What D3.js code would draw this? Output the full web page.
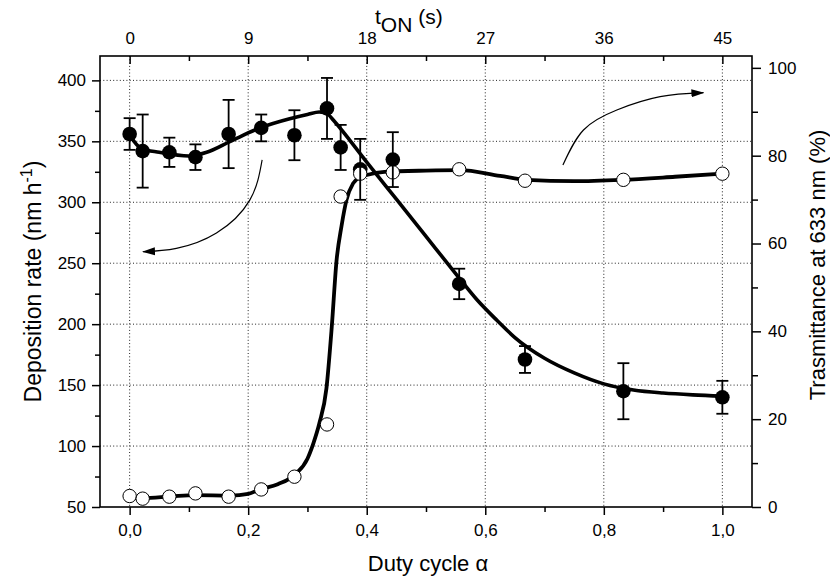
<!DOCTYPE html>
<html>
<head>
<meta charset="utf-8">
<script src="https://cdn.jsdelivr.net/npm/d3@7"></script>
<style>
body { margin: 0; background: #fff; }
text { font-family: "Liberation Sans", Arial, sans-serif; fill: #000; }
</style>
</head>
<body>
<div class="mainContainer"></div>
<script>
// duty cycle of the samples (t_ON = 45 s * alpha)
const alpha = [0, 0.022, 0.067, 0.111, 0.167, 0.222, 0.278, 0.333, 0.356, 0.389, 0.444, 0.556, 0.667, 0.833, 1.0];
// deposition rate (nm/h) and its error
const depRate = [356, 342, 341, 337, 356, 361, 355, 377, 345, 327, 335, 233, 171, 145, 140];
const depErr = [13, 30, 12, 10.5, 28, 11, 20.5, 25, 18.5, 25, 22.5, 12.5, 11, 23, 13.5];
// transmittance at 633 nm (%)
const trans = [2.5, 1.9, 2.35, 3.1, 2.35, 4.0, 6.9, 18.8, 70.7, 75.9, 76.2, 76.9, 74.3, 74.5, 75.9];

// guide-to-the-eye curves
const depFitX = [0, 0.02, 0.05, 0.1, 0.13, 0.17, 0.22, 0.27, 0.30, 0.32, 0.335, 0.3435, 0.40, 0.45, 0.50, 0.55, 0.586, 0.62, 0.65, 0.70, 0.75, 0.80, 0.85, 0.90, 0.95, 1.0];
const depFitY = [355, 344, 341, 338, 341, 350, 361, 368.5, 372, 374, 372, 367.5, 333, 302.5, 272, 241.5, 220, 203, 189, 172, 160, 151, 146, 143.5, 142, 141];
const transFitX = [0, 0.022, 0.07, 0.11, 0.17, 0.2, 0.22, 0.25, 0.28, 0.30, 0.31, 0.32, 0.332, 0.341, 0.349, 0.3575, 0.366, 0.377, 0.39, 0.40, 0.43, 0.50, 0.557, 0.625, 0.67, 0.75, 0.83, 0.92, 1.0];
const transFitY = [2.0, 2.0, 2.4, 2.7, 2.6, 3.0, 4.0, 5.2, 7.5, 11, 14.5, 19, 27, 41, 56, 64, 70, 73.7, 75.2, 75.6, 76.3, 76.6, 76.7, 75.4, 74.5, 74.2, 74.5, 75.2, 75.9];

// ticks
const bottomTicks = [0, 0.2, 0.4, 0.6, 0.8, 1.0];
const bottomMinor = [0.1, 0.3, 0.5, 0.7, 0.9];
const topTicks = [0, 9, 18, 27, 36, 45];
const topMinor = [4.5, 13.5, 22.5, 31.5, 40.5];
const leftTicks = [50, 100, 150, 200, 250, 300, 350, 400];
const leftMinor = [75, 125, 175, 225, 275, 325, 375];
const rightTicks = [0, 20, 40, 60, 80, 100];
const rightMinor = [10, 30, 50, 70, 90];

// annotation arrows, in (alpha, deposition rate) units
const arrowLeftX = [0.2235, 0.2027, 0.1465, 0.0789, 0.0225];
const arrowLeftY = [334.7, 301.8, 274.8, 262.2, 259.4];
const arrowRightX = [0.731, 0.7657, 0.822, 0.895, 0.968];
const arrowRightY = [330.6, 359.3, 375.7, 386.6, 389.9];

const margin = {top: 56, right: 78, bottom: 71, left: 100};
const width = 830 - margin.left - margin.right;
const height = 578 - margin.top - margin.bottom;

const svg = d3.select('.mainContainer')
    .append('svg')
    .attr('width', 830)
    .attr('height', 578);

const defs = svg.append('defs');
defs.append('marker')
    .attr('id', 'head')
    .attr('markerUnits', 'userSpaceOnUse')
    .attr('viewBox', '0 -5 13 10')
    .attr('refX', 12).attr('refY', 0)
    .attr('markerWidth', 13).attr('markerHeight', 10)
    .attr('orient', 'auto')
    .append('path')
    .attr('d', 'M0,-4L13,0L0,4Z')
    .attr('fill', '#000');

const graph = svg.append('g')
    .attr('transform', `translate(${margin.left},${margin.top})`);

const x = d3.scaleLinear().domain([-0.05, 1.05]).range([0, width]);
const xTop = d3.scaleLinear().domain([-0.05 * 45, 1.05 * 45]).range([0, width]);
const yL = d3.scaleLinear().domain([50, 420]).range([height, 0]);
const yR = d3.scaleLinear().domain([0, 102.7]).range([height, 0]);

const fmt = d3.formatLocale({decimal: ',', thousands: '.', grouping: [3], currency: ['', '']}).format('.1f');

// dotted grid
const grid = graph.append('g')
    .attr('stroke', '#222')
    .attr('stroke-width', 1)
    .attr('stroke-dasharray', '1,2.3');
grid.selectAll('.vg').data(bottomTicks).enter().append('line')
    .attr('x1', d => x(d)).attr('x2', d => x(d))
    .attr('y1', 0).attr('y2', height);
grid.selectAll('.hg').data(leftTicks.filter(d => d > 50)).enter().append('line')
    .attr('x1', 0).attr('x2', width)
    .attr('y1', d => yL(d)).attr('y2', d => yL(d));

// axes
const styleAxis = g => {
    g.select('.domain').remove();
    g.selectAll('line').attr('stroke-width', 1.5);
    g.selectAll('text').attr('font-size', 17).attr('font-family', '"Liberation Sans", Arial, sans-serif');
};

graph.append('g').attr('transform', `translate(0,${height})`)
    .call(d3.axisBottom(x).tickValues(bottomTicks).tickFormat(fmt).tickSize(8).tickPadding(9))
    .call(styleAxis);
graph.append('g').attr('transform', `translate(0,${height})`)
    .call(d3.axisBottom(x).tickValues(bottomMinor).tickFormat('').tickSize(5))
    .call(styleAxis);

graph.append('g')
    .call(d3.axisTop(xTop).tickValues(topTicks).tickFormat(d3.format('d')).tickSize(-8).tickPadding(12))
    .call(styleAxis);
graph.append('g')
    .call(d3.axisTop(xTop).tickValues(topMinor).tickFormat('').tickSize(-5))
    .call(styleAxis);

graph.append('g')
    .call(d3.axisLeft(yL).tickValues(leftTicks).tickSize(8).tickPadding(6))
    .call(styleAxis);
graph.append('g')
    .call(d3.axisLeft(yL).tickValues(leftMinor).tickFormat('').tickSize(5))
    .call(styleAxis);

graph.append('g').attr('transform', `translate(${width},0)`)
    .call(d3.axisRight(yR).tickValues(rightTicks).tickSize(9).tickPadding(7))
    .call(styleAxis);
graph.append('g').attr('transform', `translate(${width},0)`)
    .call(d3.axisRight(yR).tickValues(rightMinor).tickFormat('').tickSize(6))
    .call(styleAxis);

graph.append('rect')
    .attr('width', width).attr('height', height)
    .attr('fill', 'none').attr('stroke', '#000').attr('stroke-width', 1.6);

// deposition rate curve and points
const depLine = d3.line()
    .x((d, i) => x(depFitX[i]))
    .y(d => yL(d))
    .curve(d3.curveMonotoneX);
graph.append('path')
    .attr('d', depLine(depFitY))
    .attr('fill', 'none').attr('stroke', '#000').attr('stroke-width', 3.6);

graph.selectAll('.dep').data(depRate).enter().append('circle')
    .attr('cx', (d, i) => x(alpha[i]))
    .attr('cy', d => yL(d))
    .attr('r', 7.3)
    .attr('fill', '#000');

// transmittance curve and points
const transLine = d3.line()
    .x((d, i) => x(transFitX[i]))
    .y(d => yR(d))
    .curve(d3.curveMonotoneX);
graph.append('path')
    .attr('d', transLine(transFitY))
    .attr('fill', 'none').attr('stroke', '#000').attr('stroke-width', 3.8);

graph.selectAll('.tr').data(trans).enter().append('circle')
    .attr('cx', (d, i) => x(alpha[i]))
    .attr('cy', d => yR(d))
    .attr('r', 6.7)
    .attr('fill', '#fff')
    .attr('stroke', '#000')
    .attr('stroke-width', 1);

// error bars
const eb = graph.append('g').attr('stroke', '#000').attr('stroke-width', 1.8);
depRate.forEach((d, i) => {
    const cx = x(alpha[i]);
    const top = yL(d + depErr[i]);
    const bot = yL(d - depErr[i]);
    eb.append('line').attr('x1', cx).attr('x2', cx).attr('y1', top).attr('y2', bot);
    eb.append('line').attr('x1', cx - 6).attr('x2', cx + 6).attr('y1', top).attr('y2', top);
    eb.append('line').attr('x1', cx - 6).attr('x2', cx + 6).attr('y1', bot).attr('y2', bot);
});

// arrows
const arrowLine = d3.line().curve(d3.curveNatural);
graph.append('path')
    .attr('d', arrowLine(arrowLeftX.map((d, i) => [x(d), yL(arrowLeftY[i])])))
    .attr('fill', 'none').attr('stroke', '#000').attr('stroke-width', 1.2)
    .attr('marker-end', 'url(#head)');
graph.append('path')
    .attr('d', arrowLine(arrowRightX.map((d, i) => [x(d), yL(arrowRightY[i])])))
    .attr('fill', 'none').attr('stroke', '#000').attr('stroke-width', 1.2)
    .attr('marker-end', 'url(#head)');

// titles
svg.append('text')
    .attr('x', margin.left + width / 2 + 2)
    .attr('y', 571)
    .attr('text-anchor', 'middle')
    .attr('font-size', 22)
    .text('Duty cycle α');

const topTitle = svg.append('text')
    .attr('x', 375).attr('y', 24)
    .attr('font-size', 21);
topTitle.append('tspan').text('t');
topTitle.append('tspan').attr('dy', 8).text('ON');
topTitle.append('tspan').attr('dy', -8).text(' (s)');

const leftTitle = svg.append('text')
    .attr('transform', `translate(41,${margin.top + height / 2}) rotate(-90)`)
    .attr('text-anchor', 'middle')
    .attr('font-size', 23);
leftTitle.append('tspan').text('Deposition rate (nm h');
leftTitle.append('tspan').attr('dy', -9).attr('font-size', 16).text('-1');
leftTitle.append('tspan').attr('dy', 9).text(')');

svg.append('text')
    .attr('transform', `translate(825,265) rotate(-90)`)
    .attr('text-anchor', 'middle')
    .attr('font-size', 22)
    .text('Trasmittance at 633 nm (%)');
</script>
</body>
</html>
